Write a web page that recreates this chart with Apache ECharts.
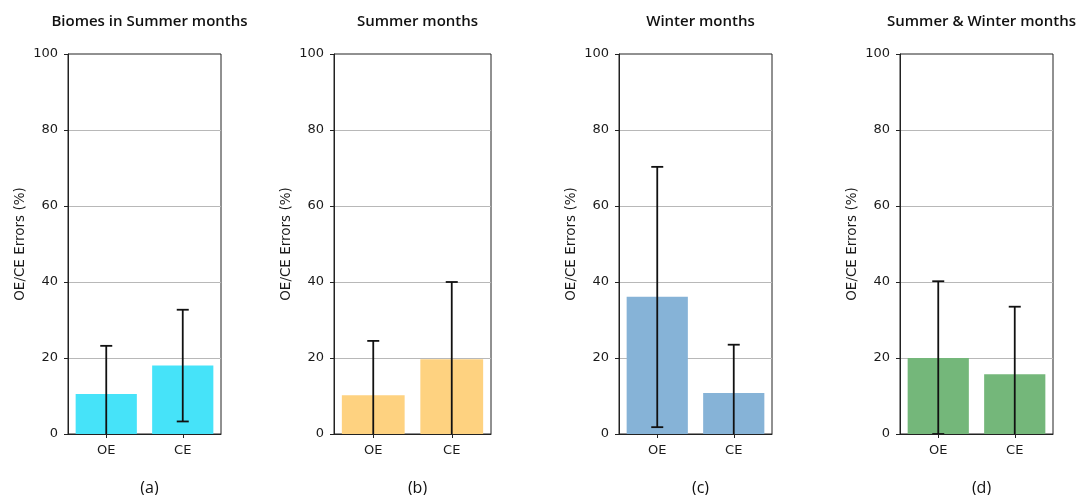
<!DOCTYPE html>
<html>
<head>
<meta charset="utf-8">
<script src="https://cdn.jsdelivr.net/npm/echarts@6/dist/echarts.min.js"></script>
<style>
  html, body { margin: 0; padding: 0; background: #fff; }
  #chart { width: 1077px; height: 495px; }
</style>
</head>
<body>
<div id="chart"></div>
<script>
// data
const categories = ['OE', 'CE'];
const panelTitles = ['Biomes in Summer months', 'Summer months', 'Winter months', 'Summer & Winter months'];
const panelTags = ['(a)', '(b)', '(c)', '(d)'];
const yTicks = [0, 20, 40, 60, 80, 100];

const barsA = [10.5, 18.0];
const lowA = [-2.2, 3.3];
const highA = [23.2, 32.7];

const barsB = [10.2, 19.7];
const lowB = [-4.1, -0.6];
const highB = [24.5, 40.0];

const barsC = [36.1, 10.8];
const lowC = [1.8, -1.9];
const highC = [70.3, 23.5];

const barsD = [20.0, 15.7];
const lowD = [0.0, -2.1];
const highD = [40.2, 33.5];

const barColors = ['#46e3f9', '#fed280', '#86b3d7', '#74b77a'];

const panels = [
  {bars: barsA, low: lowA, high: highA, left: 68, width: 153},
  {bars: barsB, low: lowB, high: highB, left: 334, width: 157},
  {bars: barsC, low: lowC, high: highC, left: 619, width: 153},
  {bars: barsD, low: lowD, high: highD, left: 900, width: 153}
];

const TOP = 54, HEIGHT = 380;
const tickFont = {fontFamily: 'DejaVu Sans', fontSize: 13, color: '#1a1a1a'};

let myChart = echarts.init(document.getElementById('chart'), null, {renderer: 'canvas'});

let grids = [], xAxes = [], yAxes = [], series = [], titles = [];

panels.forEach((p, i) => {
  grids.push({
    left: p.left, top: TOP, width: p.width, height: HEIGHT,
    show: true, borderColor: '#222', borderWidth: 1, backgroundColor: '#fff'
  });
  xAxes.push({
    type: 'category', gridIndex: i, data: categories,
    axisLine: {show: true, lineStyle: {color: '#222', width: 1}},
    axisTick: {show: true, alignWithLabel: true, length: 4, lineStyle: {color: '#222'}},
    axisLabel: Object.assign({margin: 10}, tickFont),
    splitLine: {show: false}
  });
  yAxes.push({
    type: 'value', gridIndex: i, min: 0, max: 100, interval: 20,
    name: 'OE/CE Errors (%)', nameLocation: 'middle', nameRotate: 90, nameGap: 41,
    nameTextStyle: {fontFamily: 'DejaVu Sans', fontSize: 13.5, color: '#1a1a1a'},
    axisLine: {show: true, lineStyle: {color: '#222', width: 1}},
    axisTick: {show: true, length: 4, lineStyle: {color: '#222'}},
    axisLabel: Object.assign({margin: 10, verticalAlign: 'middle', padding: [2, 0, 0, 0]}, tickFont),
    splitLine: {
      show: true,
      lineStyle: {color: yTicks.map(v => (v === 0 || v === 100) ? 'rgba(0,0,0,0)' : '#b8b8b8'), width: 1}
    }
  });
  series.push({
    type: 'bar', xAxisIndex: i, yAxisIndex: i,
    data: p.bars, barCategoryGap: '20%',
    itemStyle: {color: barColors[i]},
    z: 2
  });
  series.push({
    type: 'custom', xAxisIndex: i, yAxisIndex: i,
    data: categories.map((c, k) => [k, p.low[k], p.high[k]]),
    clip: true, z: 3,
    renderItem: function (params, api) {
      let lo = api.coord([api.value(0), api.value(1)]);
      let hi = api.coord([api.value(0), api.value(2)]);
      let cap = 6;
      let st = {stroke: '#111', lineWidth: 1.8};
      return {
        type: 'group',
        children: [
          {type: 'line', shape: {x1: lo[0], y1: lo[1], x2: hi[0], y2: hi[1]}, style: st},
          {type: 'line', shape: {x1: hi[0] - cap, y1: hi[1], x2: hi[0] + cap, y2: hi[1]}, style: st},
          {type: 'line', shape: {x1: lo[0] - cap, y1: lo[1], x2: lo[0] + cap, y2: lo[1]}, style: st}
        ]
      };
    }
  });
  titles.push({
    text: panelTitles[i], left: p.left + p.width / 2, top: 9, textAlign: 'center',
    textStyle: {fontFamily: 'Open Sans', fontSize: 15, fontWeight: 600, color: '#111'}
  });
  titles.push({
    text: panelTags[i], left: p.left + p.width / 2, top: 475, textAlign: 'center',
    textStyle: {fontFamily: 'Open Sans', fontSize: 16, fontWeight: 'normal', color: '#111'}
  });
});

myChart.setOption({
  animation: false,
  backgroundColor: '#fff',
  title: titles,
  grid: grids,
  xAxis: xAxes,
  yAxis: yAxes,
  series: series
});
</script>
</body>
</html>
